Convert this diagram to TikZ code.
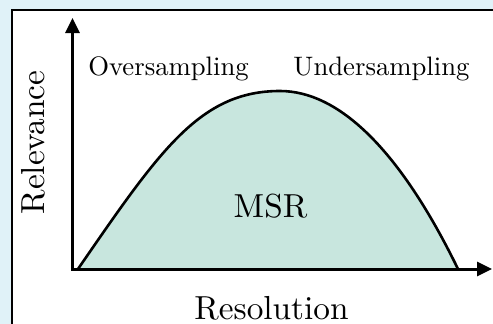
\documentclass[tikz,border=0pt]{standalone}
\usetikzlibrary{arrows.meta}
\definecolor{bgblue}{HTML}{E0F2F8}
\definecolor{msrfill}{HTML}{C8E6DE}
\tikzset{
  axisline/.style={line width=3pt, {Triangle[length=15pt,width=14pt]}-{Triangle[length=15pt,width=14pt]}, line join=miter},
  curveline/.style={line width=2.6pt},
  smalllabel/.style={font=\fontsize{10}{12}\selectfont, scale=2.67, inner sep=0pt, anchor=base},
  biglabel/.style={font=\fontsize{10}{12}\selectfont, scale=3.33, inner sep=0pt, anchor=base},
}
\begin{document}
\begin{tikzpicture}[x=1pt,y=-1pt]
\useasboundingbox (0,0) rectangle (493,324);
\clip (0,0) rectangle (493,324);
\fill[bgblue] (0,0) rectangle (493,324);
\draw[line width=2pt, fill=white] (12,10) rectangle (520,350);
\coordinate (O) at (72.5,269);
\coordinate (ytip) at (72.5,18);
\coordinate (xtip) at (492,269);
\coordinate (cs) at (78,269);
\coordinate (pk) at (280,91);
\coordinate (ce) at (458,269);
\fill[msrfill] (cs) .. controls (160,150) and (200,91) .. (pk) .. controls (339,91) and (400,150) .. (ce) -- cycle;
\draw[curveline] (cs) .. controls (160,150) and (200,91) .. (pk) .. controls (339,91) and (400,150) .. (ce);
\draw[axisline] (ytip) -- (O) -- (xtip);
\node[smalllabel] (over) at (168.5,75) {Oversampling};
\node[smalllabel] (under) at (381.5,75) {Undersampling};
\node[biglabel] (msr) at (270.5,217) {MSR};
\node[biglabel] (res) at (271.5,319.5) {Resolution};
\node[biglabel, anchor=center, rotate=90] (rel) at (33,142.5) {\vphantom{R}Relevance};
\end{tikzpicture}
\end{document}
